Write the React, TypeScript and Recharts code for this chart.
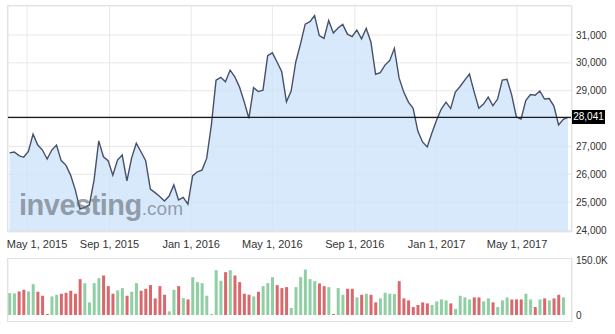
import {
  ComposedChart,
  Area,
  Bar,
  Cell,
  XAxis,
  YAxis,
  CartesianGrid,
  ReferenceLine,
} from "recharts";

const WEEK = 7 * 24 * 3600 * 1000;
const START = Date.UTC(2015, 3, 5);

// weekly closes, Apr 2015 -> Jul 2017
const CLOSE = [
  26770, 26800, 26670, 26610, 26820, 27440, 27050, 26870, 26550, 26870,
  27050, 26490, 26330, 25970, 25440, 24750, 24810, 24900, 25790, 27200,
  26630, 26490, 25970, 26510, 26690, 25760, 26580, 27110, 26810, 26490,
  25470, 25340, 25200, 25040, 25220, 25620, 25080, 25170, 24930, 25940,
  26090, 26150, 26570, 27770, 29380, 29480, 29320, 29740, 29500, 29130,
  28600, 28010, 29110, 28970, 29020, 30260, 30360, 30030, 29680, 28600,
  28990, 30040, 30680, 31390, 31480, 31700, 30980, 30880, 31520, 31070,
  31250, 31380, 31030, 30940, 31180, 30860, 31240, 30750, 29590, 29650,
  29920, 30080, 30520, 29460, 28950, 28590, 28370, 27550, 27160, 26980,
  27480, 27950, 28340, 28590, 28360, 28950, 29150, 29380, 29600, 28960,
  28370, 28520, 28770, 28460, 28700, 29380, 29410, 28850, 28060, 27980,
  28650, 28860, 28840, 28990, 28700, 28720, 28450, 27770, 27970, 28041,
];

// weekly volume in thousands
const VOLUME = [
  60.7, 59.8, 65.3, 69.9, 65.3, 85.6, 64.4, 53.4, 2.8, 51.5,
  56.1, 58.9, 61.6, 67.2, 58.9, 99.4, 88.3, 35.0, 88.3, 102.1,
  109.5, 80.0, 58.9, 68.1, 74.5, 53.4, 64.4, 88.3, 67.2, 72.7,
  82.8, 46.0, 80.0, 56.1, 10.1, 69.9, 80.0, 46.9, 43.2, 104.9,
  91.1, 88.3, 53.4, 2.8, 124.2, 94.8, 118.7, 124.2, 109.5, 91.1,
  58.9, 56.1, 51.5, 64.4, 80.0, 88.3, 104.9, 82.8, 74.5, 77.3,
  19.3, 77.3, 104.9, 126.0, 99.4, 93.8, 87.4, 80.0, 77.3, 2.8,
  74.5, 56.1, 72.7, 72.7, 48.8, 56.1, 58.9, 56.1, 35.0, 46.0,
  61.6, 58.9, 58.0, 93.8, 46.0, 40.5, 22.1, 27.6, 35.0, 32.2,
  27.6, 37.7, 43.2, 40.5, 32.2, 16.6, 53.4, 48.8, 43.2, 48.8,
  48.8, 37.7, 46.0, 35.0, 22.1, 40.5, 48.8, 43.2, 43.2, 43.2,
  58.9, 43.2, 22.1, 43.2, 46.0, 40.5, 46.0, 56.1, 48.8, null,
];

const X_TICKS = [
  Date.UTC(2015, 4, 1),
  Date.UTC(2015, 8, 1),
  Date.UTC(2016, 0, 1),
  Date.UTC(2016, 4, 1),
  Date.UTC(2016, 8, 1),
  Date.UTC(2017, 0, 1),
  Date.UTC(2017, 4, 1),
];
const X_TICK_LABELS = [
  "May 1, 2015",
  "Sep 1, 2015",
  "Jan 1, 2016",
  "May 1, 2016",
  "Sep 1, 2016",
  "Jan 1, 2017",
  "May 1, 2017",
];
const X_DOMAIN = [Date.UTC(2015, 3, 2, 15), Date.UTC(2017, 6, 22)];

const PRICE_TICKS = [24000, 25000, 26000, 27000, 28000, 29000, 30000, 31000];
const PRICE_DOMAIN = [23928, 32041];
const LAST_PRICE = 28041;

const VOLUME_TICKS = [0, 150000];
const VOLUME_DOMAIN = [-19400, 158000];

const UP = "#8fcfa3";
const DOWN = "#d9676b";
const GRID = "#e8e8e8";
const FONT = "'Liberation Sans', Arial, sans-serif";

// price plot box (px)
const PLOT_TOP = 6;
const PLOT_H = 226;

const data = CLOSE.map((c, i) => ({
  t: START + i * WEEK,
  close: c,
  volume: VOLUME[i] == null ? null : VOLUME[i] * 1000,
  up: i === 0 || c >= CLOSE[i - 1],
}));

function XTick({ x, y, payload }: any) {
  const idx = X_TICKS.indexOf(payload.value);
  const label = X_TICK_LABELS[idx] ?? "";
  return (
    <text
      x={Math.max(x, 37)}
      y={y + 14}
      textAnchor="middle"
      fontSize={11}
      fontFamily={FONT}
      fill="#333"
    >
      {label}
    </text>
  );
}

const frame = (top: number, height: number): React.CSSProperties => ({
  position: "absolute",
  left: 7,
  top,
  width: 565,
  height,
  border: "1px solid #e2e2e2",
  boxSizing: "border-box",
  pointerEvents: "none",
});

// where the last price sits on the price axis
const tagY =
  PLOT_TOP +
  ((PRICE_DOMAIN[1] - LAST_PRICE) / (PRICE_DOMAIN[1] - PRICE_DOMAIN[0])) *
    PLOT_H;

export default function App() {
  return (
    <div
      style={{
        position: "absolute",
        left: 0,
        top: 0,
        width: 615,
        height: 334,
        background: "#fff",
        fontFamily: FONT,
        overflow: "hidden",
      }}
    >
      <ComposedChart
        width={615}
        height={258}
        data={data}
        margin={{ top: PLOT_TOP, right: 0, bottom: 0, left: 8 }}
      >
        <CartesianGrid stroke={GRID} />
        <XAxis
          dataKey="t"
          type="number"
          domain={X_DOMAIN}
          ticks={X_TICKS}
          height={26}
          axisLine={false}
          tickLine={false}
          tickSize={0}
          tickMargin={2}
          tick={XTick}
          interval={0}
        />
        <YAxis
          orientation="right"
          width={43}
          domain={PRICE_DOMAIN}
          ticks={PRICE_TICKS}
          axisLine={false}
          tickLine={false}
          tickSize={0}
          tickMargin={4}
          // the last-price tag covers the 28,000 label
          tickFormatter={(v: number) =>
            Math.abs(v - LAST_PRICE) < 300 ? "" : v.toLocaleString("en-US")
          }
          tick={{ fontSize: 10, fill: "#333", fontFamily: FONT }}
          interval={0}
        />
        <Area
          type="linear"
          dataKey="close"
          stroke="#46506a"
          strokeWidth={1.4}
          fill="#cde3fa"
          fillOpacity={0.8}
          dot={false}
          activeDot={false}
          isAnimationActive={false}
        />
        <ReferenceLine y={LAST_PRICE} stroke="#1a1a1a" strokeWidth={1.3} />
      </ComposedChart>

      <div style={{ position: "absolute", left: 0, top: 250 }}>
        <ComposedChart
          width={615}
          height={84}
          data={data}
          margin={{ top: 8, right: 0, bottom: 12, left: 8 }}
        >
          <CartesianGrid stroke={GRID} horizontal={false} />
          <XAxis
            dataKey="t"
            type="number"
            domain={X_DOMAIN}
            ticks={X_TICKS}
            height={0}
            axisLine={false}
            tickLine={false}
            tick={false}
          />
          <YAxis
            orientation="right"
            width={43}
            domain={VOLUME_DOMAIN}
            ticks={VOLUME_TICKS}
            axisLine={false}
            tickLine={false}
            tickSize={0}
            tickMargin={4}
            tickFormatter={(v: number) =>
              v === 0 ? "0" : (v / 1000).toFixed(1) + "K"
            }
            tick={{ fontSize: 10, fill: "#333", fontFamily: FONT }}
            interval={0}
          />
          <Bar dataKey="volume" barSize={3} isAnimationActive={false}>
            {data.map((d, i) => (
              <Cell key={i} fill={d.up ? UP : DOWN} />
            ))}
          </Bar>
        </ComposedChart>
      </div>

      <div style={frame(5, 227)} />
      <div style={frame(258, 64)} />

      <div
        style={{
          position: "absolute",
          left: 572,
          top: tagY - 7,
          width: 33,
          height: 14,
          background: "#000",
          color: "#fff",
          fontSize: 10,
          lineHeight: "14px",
          textAlign: "center",
        }}
      >
        {LAST_PRICE.toLocaleString("en-US")}
      </div>

      <div
        style={{
          position: "absolute",
          left: 19,
          top: 191,
          lineHeight: "29px",
          whiteSpace: "nowrap",
          color: "rgba(96,104,116,0.6)",
          pointerEvents: "none",
        }}
      >
        <span style={{ fontSize: 29, fontWeight: 700, letterSpacing: -0.5 }}>
          investing
        </span>
        <span style={{ fontSize: 19, fontWeight: 400 }}>.com</span>
      </div>
    </div>
  );
}
